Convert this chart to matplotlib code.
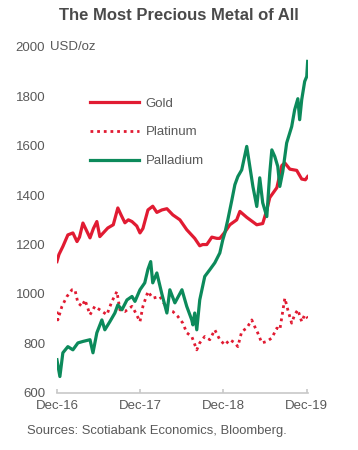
import pandas as pd
import matplotlib
matplotlib.use("Agg")
import matplotlib.pyplot as plt
import matplotlib.transforms as mtransforms

plt.rcParams['font.family'] = ['Liberation Sans', 'DejaVu Sans']

# --- data (USD/oz) ---
gold_dates = ['2016-12-01', '2016-12-10', '2016-12-27', '2017-01-18', '2017-02-09', '2017-02-27',
              '2017-03-10', '2017-03-25', '2017-04-25', '2017-05-10', '2017-05-25', '2017-06-07',
              '2017-06-25', '2017-07-12', '2017-08-05', '2017-08-25', '2017-09-08', '2017-09-25',
              '2017-10-10', '2017-10-26', '2017-11-16', '2017-11-30', '2017-12-13', '2018-01-04',
              '2018-01-25', '2018-02-12', '2018-03-06', '2018-03-28', '2018-04-23', '2018-05-24',
              '2018-06-23', '2018-07-28', '2018-08-19', '2018-09-01', '2018-09-19', '2018-10-11',
              '2018-11-02', '2018-11-15', '2018-12-07', '2018-12-29', '2019-01-28', '2019-02-11',
              '2019-03-13', '2019-04-04', '2019-04-26', '2019-05-22', '2019-06-09', '2019-06-22',
              '2019-07-23', '2019-08-14', '2019-08-27', '2019-09-18', '2019-10-18', '2019-11-09',
              '2019-11-25', '2019-12-05']
gold_usd = [1131, 1160, 1192, 1239, 1247, 1212, 1230, 1287, 1227, 1265, 1293, 1232,
            1250, 1267, 1280, 1348, 1320, 1288, 1300, 1293, 1275, 1247, 1265, 1340,
            1355, 1330, 1340, 1345, 1320, 1300, 1260, 1225, 1195, 1200, 1200, 1230,
            1225, 1225, 1250, 1280, 1300, 1334, 1310, 1295, 1280, 1285, 1340, 1390,
            1430, 1520, 1530, 1505, 1500, 1465, 1462, 1475]

platinum_dates = ['2016-12-01', '2016-12-05', '2016-12-23', '2017-01-14', '2017-02-05', '2017-02-18',
                  '2017-03-03', '2017-03-21', '2017-04-03', '2017-04-25', '2017-05-16', '2017-06-07',
                  '2017-07-08', '2017-07-30', '2017-08-21', '2017-09-03', '2017-09-25', '2017-10-26',
                  '2017-11-08', '2017-11-30', '2017-12-13', '2018-01-04', '2018-01-25', '2018-02-25',
                  '2018-03-19', '2018-04-01', '2018-04-23', '2018-05-15', '2018-06-06', '2018-06-23',
                  '2018-07-15', '2018-08-06', '2018-08-19', '2018-09-10', '2018-10-02', '2018-10-24',
                  '2018-11-15', '2018-12-07', '2018-12-29', '2019-01-20', '2019-02-02', '2019-02-19',
                  '2019-03-13', '2019-04-04', '2019-04-17', '2019-04-30', '2019-05-18', '2019-06-09',
                  '2019-07-01', '2019-07-23', '2019-08-05', '2019-08-27', '2019-09-09', '2019-09-26',
                  '2019-10-09', '2019-10-23', '2019-11-09', '2019-11-22', '2019-12-05']
platinum_usd = [929, 895, 950, 990, 1017, 1017, 964, 950, 976, 916, 950, 936,
                916, 970, 1010, 936, 929, 950, 929, 888, 950, 1010, 983, 990,
                956, 936, 929, 909, 882, 843, 828, 774, 802, 828, 815, 855,
                815, 794, 815, 802, 787, 848, 862, 895, 868, 843, 802, 808,
                822, 862, 855, 983, 936, 882, 916, 936, 888, 916, 902]

palladium_dates = ['2016-12-01', '2016-12-14', '2016-12-27', '2017-01-18', '2017-02-09', '2017-03-03',
                   '2017-03-25', '2017-04-25', '2017-05-08', '2017-05-25', '2017-06-16', '2017-06-29',
                   '2017-07-21', '2017-08-12', '2017-08-25', '2017-09-12', '2017-10-04', '2017-10-26',
                   '2017-11-08', '2017-11-30', '2017-12-21', '2018-01-04', '2018-01-16', '2018-01-25',
                   '2018-02-12', '2018-03-06', '2018-03-28', '2018-04-10', '2018-05-02', '2018-06-02',
                   '2018-06-23', '2018-07-15', '2018-07-20', '2018-07-28', '2018-08-06', '2018-08-19',
                   '2018-09-10', '2018-10-02', '2018-10-24', '2018-11-15', '2018-11-28', '2018-12-07',
                   '2018-12-20', '2019-01-07', '2019-01-20', '2019-02-02', '2019-02-19', '2019-03-13',
                   '2019-04-09', '2019-04-26', '2019-05-09', '2019-05-22', '2019-06-09', '2019-06-22',
                   '2019-07-01', '2019-07-14', '2019-07-27', '2019-08-05', '2019-08-18', '2019-09-04',
                   '2019-09-26', '2019-10-09', '2019-10-23', '2019-10-31', '2019-11-09', '2019-11-22',
                   '2019-12-01', '2019-12-05']
palladium_usd = [734, 666, 762, 787, 774, 802, 808, 815, 762, 843, 895, 855,
                 888, 923, 956, 936, 976, 990, 970, 1017, 1045, 1100, 1131, 1045,
                 1085, 1000, 923, 1017, 964, 1017, 950, 895, 875, 923, 855, 976,
                 1071, 1098, 1126, 1166, 1219, 1247, 1300, 1381, 1442, 1475, 1502, 1597,
                 1435, 1354, 1470, 1369, 1313, 1490, 1583, 1556, 1516, 1435, 1495, 1611,
                 1677, 1745, 1790, 1705, 1786, 1860, 1880, 1941]

y_ticks = [600, 800, 1000, 1200, 1400, 1600, 1800, 2000]
x_ticks = ['2016-12-01', '2017-12-01', '2018-12-01', '2019-12-01']
x_labels = ['Dec-16', 'Dec-17', 'Dec-18', 'Dec-19']

RED = '#E11B32'
GREEN = '#0C8A5B'
GREY = '#595959'

fig = plt.figure(figsize=(3.58, 4.5), dpi=100)
ax = fig.add_axes([0.159, 0.127, 0.701, 0.769])

ax.plot(pd.to_datetime(gold_dates), gold_usd, color=RED, lw=2.3, label='Gold')
ax.plot(pd.to_datetime(platinum_dates), platinum_usd, color=RED, lw=2.0,
        linestyle=(0, (1, 1.4)), label='Platinum')
ax.plot(pd.to_datetime(palladium_dates), palladium_usd, color=GREEN, lw=2.3, label='Palladium')

ax.set_ylim(600, 2000)
ax.set_xlim(pd.Timestamp('2016-12-01'), pd.Timestamp('2019-12-06'))
ax.set_yticks(y_ticks)
ax.set_xticks(pd.to_datetime(x_ticks))
ax.set_xticklabels(x_labels)

for side in ['top', 'right', 'left']:
    ax.spines[side].set_visible(False)
ax.spines['bottom'].set_color('#c8c8c8')
ax.spines['bottom'].set_linewidth(1.2)
ax.tick_params(axis='y', length=0, labelsize=9.5, labelcolor=GREY, pad=8.5)
ax.tick_params(axis='x', direction='in', length=3, color='#c8c8c8', width=1.2,
               labelsize=9.5, labelcolor=GREY, pad=5)

# unit next to the top tick label
trans = mtransforms.blended_transform_factory(ax.transAxes, ax.transData)
ax.annotate('USD/oz', xy=(0, 2000), xycoords=trans, xytext=(-5, 0),
            textcoords='offset points', ha='left', va='center',
            fontsize=9.5, color=GREY)

leg = ax.legend(loc='upper left', bbox_to_anchor=(0.085, 0.888), frameon=False,
                handlelength=3.7, labelspacing=1.25, handletextpad=0.5, fontsize=9.5)
for t in leg.get_texts():
    t.set_color(GREY)

fig.text(0.5, 0.965, 'The Most Precious Metal of All', ha='center', va='center',
         fontsize=12, fontweight='bold', color='#4a4a4a')
fig.text(0.075, 0.043, 'Sources: Scotiabank Economics, Bloomberg.', ha='left', va='center',
         fontsize=9.4, color=GREY)

fig.savefig('out.png', dpi=100)
